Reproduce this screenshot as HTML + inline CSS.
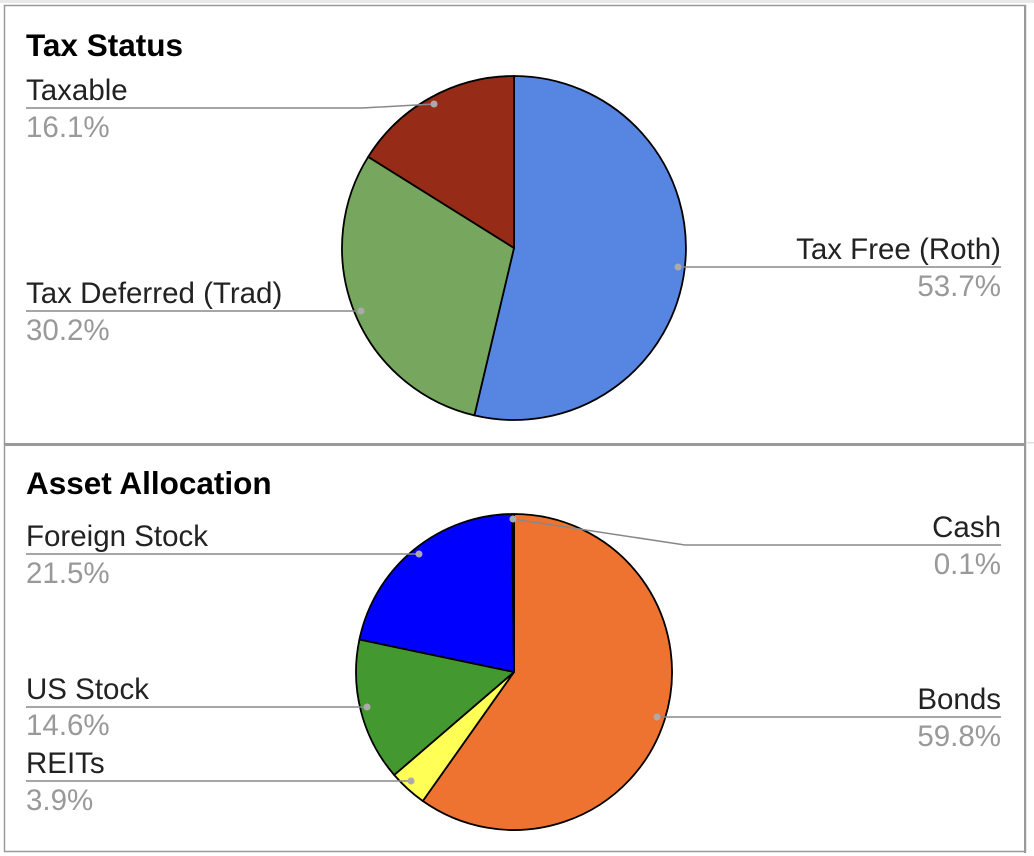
<!DOCTYPE html>
<html><head><meta charset="utf-8"><style>
html,body{margin:0;padding:0;background:#fff;}
svg{display:block;font-family:"Liberation Sans",Arial,sans-serif;}
</style></head><body>
<svg width="1034" height="856" viewBox="0 0 1034 856">
<rect x="0" y="0" width="1034" height="3" fill="#e8e8e8"/>
<rect x="4.5" y="5.5" width="1021" height="846" fill="none" stroke="#9a9a9a" stroke-width="1.5"/>
<rect x="1024" y="5" width="2" height="848" fill="#9a9a9a"/>
<rect x="4" y="443" width="1022" height="3" fill="#9a9a9a"/>
<rect x="1026" y="442" width="8" height="1.5" fill="#e0e0e0"/>

<text x="26" y="56" font-size="31.5" font-weight="bold" fill="#000">Tax Status</text>
<g stroke="#000" stroke-width="1.8" stroke-linejoin="round">
<path d="M514,248 L514,76 A172,172 0 1 1 474.4,415.4 Z" fill="#5686e1"/>
<path d="M514,248 L474.4,415.4 A172,172 0 0 1 368.2,156.8 Z" fill="#77a75e"/>
<path d="M514,248 L368.2,156.8 A172,172 0 0 1 514,76 Z" fill="#962b18"/>
</g>
<g stroke="#888" stroke-width="1.5" fill="none">
<polyline points="26,108 362,108 434,104"/>
<polyline points="26,311 361,311"/>
<polyline points="678,267 1001,267"/>
</g>
<g fill="#aaa"><circle cx="434" cy="104" r="3.5"/><circle cx="361" cy="311" r="3.5"/><circle cx="678" cy="267" r="3.5"/></g>
<g font-size="29.5">
<text x="26" y="100" fill="#222">Taxable</text>
<text x="26" y="137" fill="#999">16.1%</text>
<text x="26" y="303" fill="#222">Tax Deferred (Trad)</text>
<text x="26" y="340" fill="#999">30.2%</text>
<text x="1001" y="259" fill="#222" text-anchor="end">Tax Free (Roth)</text>
<text x="1001" y="296" fill="#999" text-anchor="end">53.7%</text>
</g>

<text x="26" y="494" font-size="31.5" font-weight="bold" fill="#000">Asset Allocation</text>
<g stroke="#000" stroke-width="1.8" stroke-linejoin="round">
<path d="M514,672 L514,514 A158,158 0 1 1 422.8,801 Z" fill="#ee7330"/>
<path d="M514,672 L422.8,801 A158,158 0 0 1 394.2,775 Z" fill="#ffff55"/>
<path d="M514,672 L394.2,775 A158,158 0 0 1 359.4,639.5 Z" fill="#43982f"/>
<path d="M514,672 L359.4,639.5 A158,158 0 0 1 512,514 Z" fill="#0000ff"/>
<path d="M514,672 L512,514 A158,158 0 0 1 514,514 Z" fill="#999"/>
</g>
<g stroke="#888" stroke-width="1.5" fill="none">
<polyline points="26,554 419,554"/>
<polyline points="513,519 685,545 1001,545"/>
<polyline points="26,707 367,707"/>
<polyline points="657,717 1001,717"/>
<polyline points="26,781 411,781"/>
</g>
<g fill="#aaa"><circle cx="419" cy="554" r="3.5"/><circle cx="513" cy="519" r="3.5"/><circle cx="367" cy="707" r="3.5"/><circle cx="657" cy="717" r="3.5"/><circle cx="411" cy="781" r="3.5"/></g>
<g font-size="29.5">
<text x="26" y="546" fill="#222">Foreign Stock</text>
<text x="26" y="583" fill="#999">21.5%</text>
<text x="1001" y="537" fill="#222" text-anchor="end">Cash</text>
<text x="1001" y="574" fill="#999" text-anchor="end">0.1%</text>
<text x="26" y="699" fill="#222">US Stock</text>
<text x="26" y="735" fill="#999">14.6%</text>
<text x="1001" y="709" fill="#222" text-anchor="end">Bonds</text>
<text x="1001" y="746" fill="#999" text-anchor="end">59.8%</text>
<text x="26" y="773" fill="#222">REITs</text>
<text x="26" y="810" fill="#999">3.9%</text>
</g>
</svg>
</body></html>
